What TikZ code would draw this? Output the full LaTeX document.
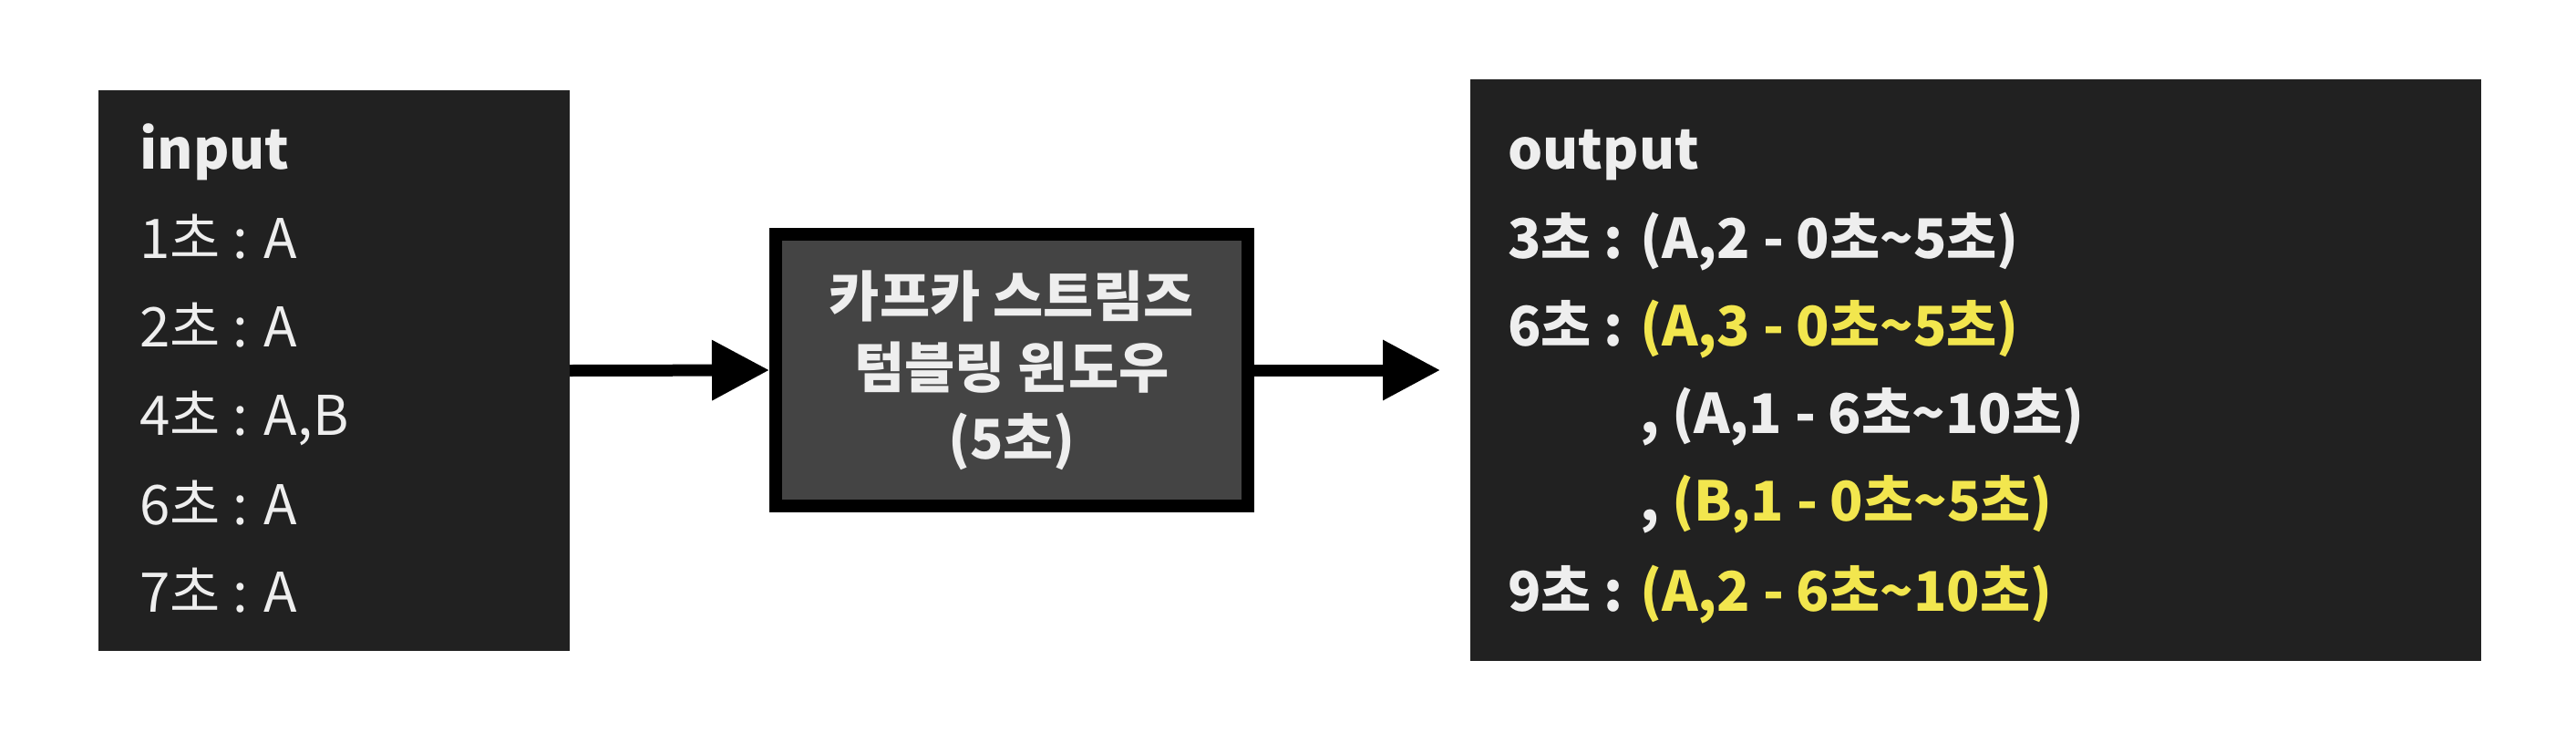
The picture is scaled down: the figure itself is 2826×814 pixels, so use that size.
\documentclass[tikz,border=0pt]{standalone}
\usepackage{fontspec}
\setmainfont{Noto Sans CJK KR}
\usepackage{tikz}
\usetikzlibrary{arrows.meta}
\definecolor{boxdark}{HTML}{212121}
\definecolor{boxgray}{HTML}{444444}
\definecolor{txtwhite}{HTML}{EEEEEE}
\definecolor{hlyellow}{HTML}{F2E64E}
\tikzset{
  listbox/.style={fill=boxdark,inner sep=0pt,outer sep=0pt},
  listtext/.style={anchor=base west,inner sep=0pt,text=txtwhite,font=\fontsize{30}{36}\selectfont},
  boldtext/.style={listtext,font=\fontsize{30}{36}\selectfont\bfseries},
  flowarrow/.style={line width=6.5pt,-{Triangle[length=31.5pt,width=31.5pt]}}
}

\begin{document}
\begin{tikzpicture}[x=0.5pt,y=0.5pt,yscale=-1,xscale=1]
\useasboundingbox (0,0) rectangle (2826,814);

%Shape: input box
\node [listbox,minimum width=258.5pt,minimum height=307.5pt] (inbox) at (366.5,406.5) {};
%Shape: window box
\node [draw=black,fill=boxgray,line width=7pt,inner sep=0pt,minimum width=259pt,minimum height=149pt,
       align=center,text=txtwhite,font=\fontsize{30}{39}\selectfont\bfseries] (winbox) at (1110,406)
       {카프카 스트림즈\\텀블링 윈도우\\(5초)};
%Shape: output box
\node [listbox,minimum width=554.5pt,minimum height=319pt] (outbox) at (2167.5,406) {};

%Straight Lines: arrows
\draw [flowarrow] (inbox.east) -- (winbox.west);
\draw [flowarrow,shorten >=16.5pt] (winbox.east) -- (outbox.west);

% Text Node
\node [boldtext] (inhead) at (153,185) {input};
% Text Node
\node [listtext] (in1) at (153,283) {1초 : A};
% Text Node
\node [listtext] (in2) at (153,380) {2초 : A};
% Text Node
\node [listtext] (in3) at (153,477) {4초 : A,B};
% Text Node
\node [listtext] (in4) at (153,575) {6초 : A};
% Text Node
\node [listtext] (in5) at (153,671) {7초 : A};

% Text Node
\node [boldtext] (outhead) at (1654,185) {output};
% Text Node
\node [boldtext] (out1) at (1654,283) {3초 : (A,2 - 0초\textasciitilde 5초)};
% Text Node
\node [boldtext] (out2) at (1654,379) {6초 : \textcolor{hlyellow}{(A,3 - 0초\textasciitilde 5초)}};
% Text Node
\node [boldtext] (out3) at (1654,475) {\phantom{6초 : }, (A,1 - 6초\textasciitilde 10초)};
% Text Node
\node [boldtext] (out4) at (1654,571) {\phantom{6초 : }, \textcolor{hlyellow}{(B,1 - 0초\textasciitilde 5초)}};
% Text Node
\node [boldtext] (out5) at (1654,670) {9초 : \textcolor{hlyellow}{(A,2 - 6초\textasciitilde 10초)}};

\end{tikzpicture}
\end{document}
